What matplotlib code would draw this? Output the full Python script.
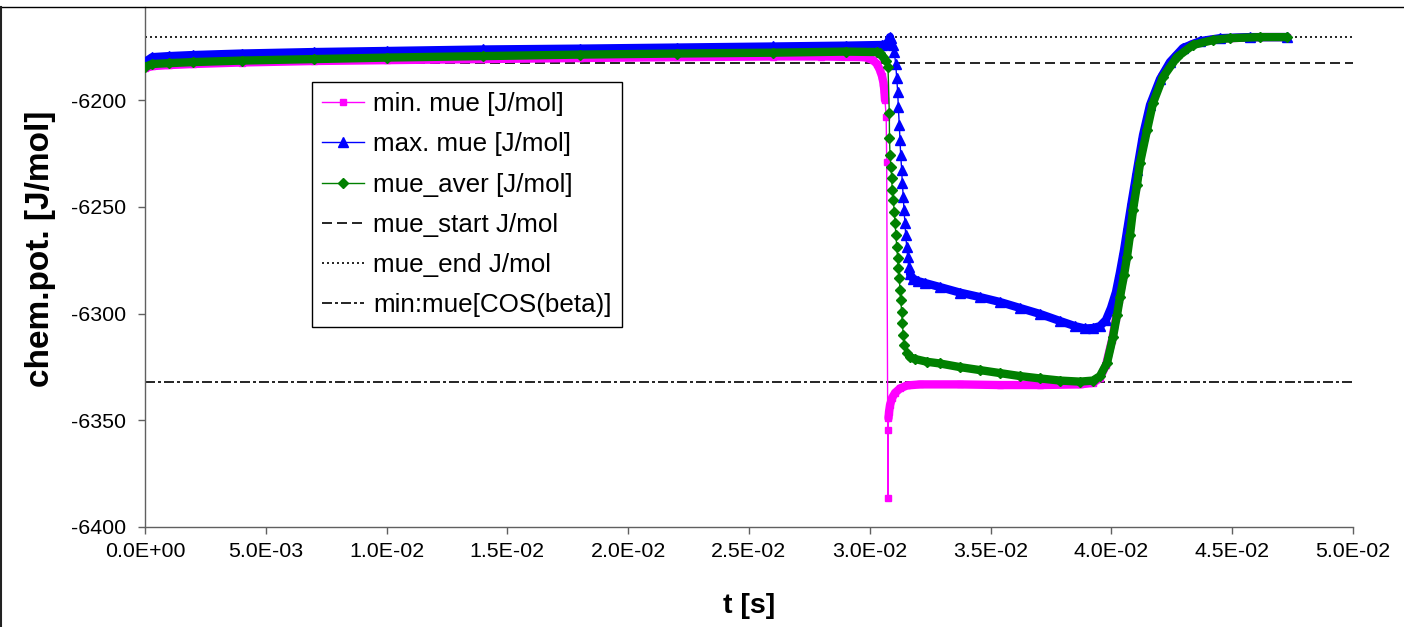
import numpy as np
import matplotlib
matplotlib.use('Agg')
import matplotlib.pyplot as plt
from matplotlib.lines import Line2D
from matplotlib.ticker import FuncFormatter

plt.rcParams['font.family'] = ['Liberation Sans', 'DejaVu Sans']

# chemical potential series, t in s, mu in J/mol
t_min = [0.0, 0.0003, 0.001, 0.002, 0.004, 0.007, 0.010, 0.014, 0.018, 0.022, 0.026, 0.028,
         0.029801, 0.030132, 0.030298, 0.030422, 0.030505, 0.030567, 0.030600, 0.030629,
         0.030679, 0.030699, 0.030753, 0.030762, 0.030774, 0.030795, 0.030836, 0.030919,
         0.031043, 0.031250, 0.031540, 0.032078, 0.033733, 0.035389, 0.037045, 0.038700,
         0.039238, 0.039528, 0.039776, 0.040025, 0.040190, 0.040315, 0.040480, 0.040604,
         0.040728, 0.040853, 0.041018, 0.041142, 0.041432, 0.041680, 0.042094, 0.042674,
         0.043336, 0.044164, 0.044909, 0.046151, 0.047268]
mu_min = [-6185.0, -6184.1, -6183.6, -6183.1, -6182.4, -6181.7, -6181.3, -6180.8, -6180.3, -6179.9, -6179.6, -6179.6,
          -6179.9, -6181.3, -6183.1, -6186.0, -6188.8, -6192.0, -6195.3, -6200.0,
          -6208.0, -6229.0, -6386.4, -6354.6, -6349.0, -6346.1, -6342.9, -6339.6,
          -6337.2, -6335.1, -6333.7, -6333.2, -6333.2, -6333.5, -6333.5, -6333.2,
          -6332.5, -6330.2, -6324.1, -6312.4, -6302.1, -6293.7, -6283.4, -6274.0,
          -6264.2, -6252.5, -6240.7, -6230.4, -6214.5, -6201.4, -6188.8, -6179.4,
          -6173.8, -6171.7, -6171.0, -6170.5, -6170.5]

t_max = [0.0, 0.0003, 0.001, 0.002, 0.004, 0.007, 0.010, 0.014, 0.018, 0.022, 0.026, 0.029,
         0.0305, 0.030699, 0.030774, 0.030836, 0.030898, 0.030948, 0.031014, 0.031072,
         0.031114, 0.031155, 0.031180, 0.031221, 0.031250, 0.031279, 0.031321, 0.031345,
         0.031387, 0.031416, 0.031457, 0.031486, 0.031528, 0.031569, 0.031610, 0.031664,
         0.031788, 0.031995, 0.032285, 0.032906, 0.033733, 0.034561, 0.035389, 0.036217,
         0.037045, 0.037873, 0.038493, 0.038907, 0.039238, 0.039528, 0.039776, 0.039983,
         0.040190, 0.040356, 0.040522, 0.040687, 0.040853, 0.041060, 0.041308, 0.041598,
         0.042012, 0.042425, 0.042964, 0.043667, 0.044495, 0.045737, 0.047268]
mu_max = [-6182.2, -6179.9, -6179.4, -6178.9, -6178.2, -6177.5, -6177.0, -6176.3, -6175.9, -6175.4, -6174.9, -6174.5,
          -6174.2, -6173.8, -6172.4, -6170.5, -6170.7, -6174.2, -6177.5, -6183.1,
          -6189.7, -6196.3, -6203.1, -6211.7, -6218.7, -6225.8, -6232.8, -6239.0,
          -6245.3, -6251.5, -6257.8, -6263.2, -6268.7, -6273.4, -6278.1, -6281.5,
          -6283.6, -6284.8, -6285.7, -6287.6, -6290.2, -6292.3, -6294.6, -6297.4,
          -6300.2, -6303.5, -6305.9, -6307.0, -6306.8, -6305.9, -6303.0, -6297.4,
          -6289.9, -6280.6, -6270.3, -6258.5, -6246.8, -6232.8, -6216.4, -6202.3,
          -6190.2, -6182.2, -6175.6, -6172.4, -6171.0, -6170.5, -6170.5]

t_avg = [0.0, 0.0003, 0.001, 0.002, 0.004, 0.007, 0.010, 0.014, 0.018, 0.022, 0.026, 0.029,
         0.030286, 0.030422, 0.030546, 0.030671, 0.030753, 0.030807, 0.030815, 0.030836,
         0.030877, 0.030906, 0.030931, 0.030972, 0.031014, 0.031043, 0.031084, 0.031114,
         0.031155, 0.031180, 0.031221, 0.031250, 0.031279, 0.031321, 0.031345, 0.031387,
         0.031428, 0.031527, 0.031664, 0.031871, 0.032368, 0.032906, 0.033733, 0.034561,
         0.035389, 0.036217, 0.037045, 0.037873, 0.038700, 0.039238, 0.039528, 0.039818,
         0.040066, 0.040232, 0.040356, 0.040522, 0.040646, 0.040770, 0.040894, 0.041060,
         0.041184, 0.041474, 0.041722, 0.042136, 0.042715, 0.043377, 0.044205, 0.044909,
         0.046151, 0.047268]
mu_avg = [-6184.5, -6183.1, -6182.7, -6182.2, -6181.5, -6180.8, -6180.1, -6179.4, -6178.7, -6178.2, -6177.8, -6177.3,
          -6177.5, -6178.0, -6179.7, -6181.7, -6184.4, -6206.2, -6217.9, -6225.8,
          -6231.2, -6236.7, -6242.2, -6246.8, -6252.3, -6257.8, -6263.2, -6268.7,
          -6274.1, -6278.8, -6283.5, -6289.0, -6293.7, -6299.2, -6304.6, -6310.1,
          -6314.8, -6318.7, -6320.4, -6321.3, -6322.6, -6323.4, -6325.1, -6326.5,
          -6327.9, -6329.3, -6330.4, -6331.4, -6331.9, -6331.4, -6329.3, -6323.2,
          -6311.0, -6300.7, -6292.3, -6282.0, -6273.5, -6263.2, -6251.5, -6239.8,
          -6229.5, -6214.1, -6201.4, -6189.2, -6179.9, -6174.2, -6171.9, -6171.0,
          -6170.5, -6170.5]

mue_start = -6182.8
mue_end = -6170.4
mue_cos = -6332.1

fig = plt.figure(figsize=(14.04, 6.27), dpi=100)
ax = fig.add_axes([145 / 1404, 1 - 527 / 627, 1208 / 1404, 520 / 627])


def draw(t, v, color, marker, ms, label, gap, z):
    t = np.asarray(t)
    v = np.asarray(v)
    pre = t <= gap[0]
    post = t >= gap[1]
    # dense stretches: the markers merge into a thick band
    ax.plot(t[pre], v[pre], color=color, lw=6, solid_capstyle='round', solid_joinstyle='round', zorder=z)
    ax.plot(t[post], v[post], color=color, lw=6, solid_capstyle='round', solid_joinstyle='round', zorder=z)
    ax.plot(t, v, color=color, lw=1, marker=marker, ms=ms, mec=color, mfc=color, label=label, zorder=z)


draw(t_min, mu_min, '#FF00FF', 's', 5, 'min. mue [J/mol]', (0.03063, 0.030774), 3)
draw(t_max, mu_max, '#0000FF', '^', 7, 'max. mue [J/mol]', (0.03085, 0.03166), 4)
draw(t_avg, mu_avg, '#008000', 'D', 5, 'mue_aver [J/mol]', (0.03075, 0.03153), 5)

lw = 1.2
ax.axhline(mue_start, color='black', lw=lw, ls=(0, (6, 3)), zorder=2, label='mue_start J/mol')
ax.axhline(mue_end, color='black', lw=lw, ls=(0, (1.2, 1.8)), zorder=2, label='mue_end J/mol')
ax.axhline(mue_cos, color='black', lw=lw, ls=(0, (6, 1.8, 1.8, 1.8)), zorder=2, label='min:mue[COS(beta)]')

ax.set_xlim(0, 0.05)
ax.set_ylim(-6400, -6156.4)
ax.set_xticks(np.arange(0, 0.0501, 0.005))
ax.set_yticks(np.arange(-6400, -6199, 50))
ax.xaxis.set_major_formatter(FuncFormatter(lambda v, p: f'{v:.1E}'))
ax.yaxis.set_major_formatter(FuncFormatter(lambda v, p: f'{v:.0f}'))

for s in ['top', 'right']:
    ax.spines[s].set_visible(False)
for s in ['left', 'bottom']:
    ax.spines[s].set_color('#606060')
    ax.spines[s].set_linewidth(1)
ax.tick_params(axis='both', direction='out', length=5, width=1, color='#606060',
               labelsize=15.4, labelcolor='black')
ax.tick_params(axis='x', pad=6)
ax.tick_params(axis='y', pad=8.5)

ax.set_xlabel('t [s]', fontsize=20.5, fontweight='bold', labelpad=23)
ax.set_ylabel('chem.pot. [J/mol]', fontsize=24, fontweight='bold')
ax.yaxis.set_label_coords(-0.0737, 0.535)

ax.legend(loc='upper left', bbox_to_anchor=(312 / 1404, 1 - 82 / 627), bbox_transform=fig.transFigure,
          fontsize=18.7, frameon=True, fancybox=False, edgecolor='black', framealpha=1,
          handlelength=1.6, handletextpad=0.35, labelspacing=0.62, borderpad=0.4, borderaxespad=0)

# chart area border visible at top and left
fig.add_artist(Line2D([0, 1], [1 - 7 / 627] * 2, transform=fig.transFigure, color='black', lw=1))
fig.add_artist(Line2D([1 / 1404] * 2, [0, 1 - 7 / 627], transform=fig.transFigure, color='#222222', lw=1.5))

plt.savefig('out.png', dpi=100)
